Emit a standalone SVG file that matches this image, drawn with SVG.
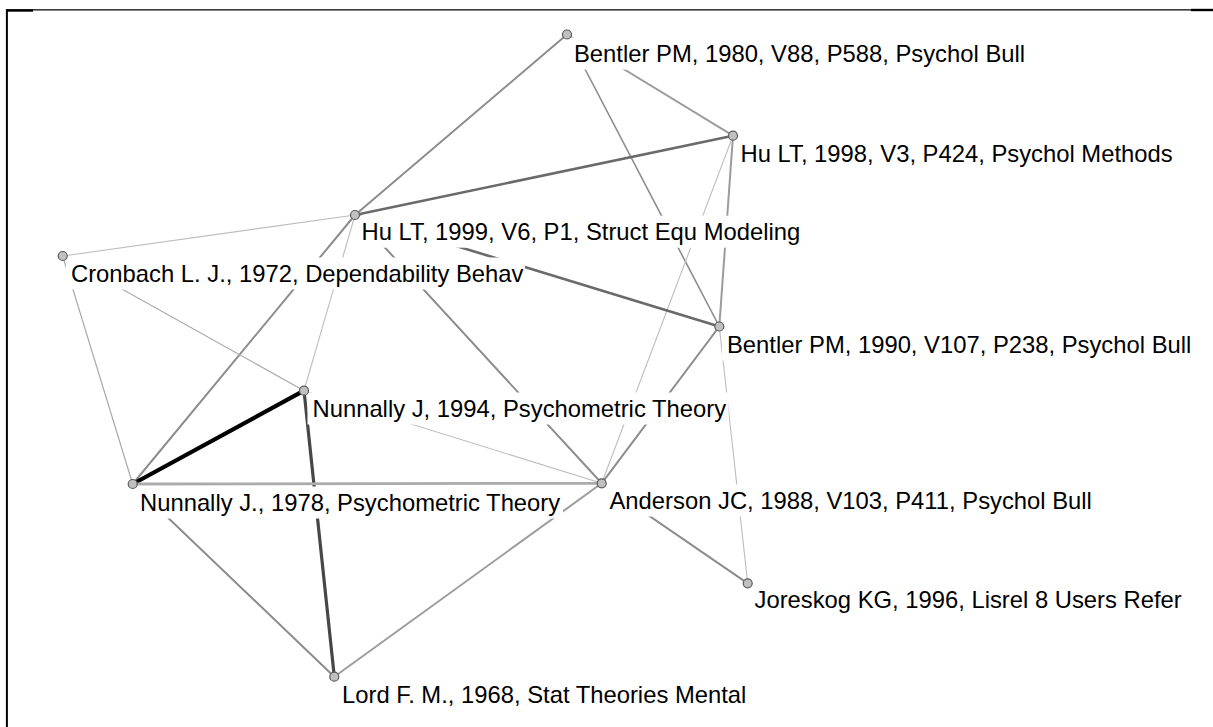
<svg xmlns="http://www.w3.org/2000/svg" width="1213" height="727" viewBox="0 0 1213 727">
<style>
.bg{fill:#fff}
.lbl{font-family:"Liberation Sans",Arial,sans-serif;font-size:23.8px;fill:#000}
.box{fill:#fff;stroke:none}
.dot{fill:#c0c0c0;stroke:#5a5a5a;stroke-width:1.2}
.e{fill:none;stroke-linecap:round}
.w1{stroke:#bdbdbd;stroke-width:1.1}
.w1b{stroke:#aaaaaa;stroke-width:1.2}
.w2{stroke:#8c8c8c;stroke-width:2}
.w2l{stroke:#9c9c9c;stroke-width:2}
.w3{stroke:#6a6a6a;stroke-width:2.6}
.w4{stroke:#474747;stroke-width:3.2}
.w5{stroke:#000;stroke-width:4.2}
.frame{stroke:#000;fill:none}
</style>
<rect class="bg" x="0" y="0" width="1213" height="727"/>
<g id="frame">
<line class="frame" x1="7" y1="9.8" x2="1213" y2="9.8" stroke-width="1.3"/>
<line class="frame" x1="6.9" y1="9" x2="6.9" y2="727" stroke-width="2"/>
<line class="frame" x1="7" y1="10.5" x2="33" y2="10.5" stroke-width="2.4"/>
<line class="frame" x1="1191" y1="10" x2="1213" y2="10" stroke-width="2.4"/>
</g>
<g id="connectors">
<line class="e w2" x1="567" y1="34.5" x2="355" y2="215"/>
<line class="e w2l" x1="567" y1="34.5" x2="733" y2="135.7"/>
<line class="e w2" x1="567" y1="34.5" x2="719.3" y2="326.5" style="stroke-width:1.6"/>
<line class="e w3" x1="733" y1="135.7" x2="355" y2="215"/>
<line class="e w2l" x1="733" y1="135.7" x2="719.3" y2="326.5"/>
<line class="e w1" x1="733" y1="135.7" x2="601.7" y2="483.3"/>
<line class="e w1" x1="355" y1="215" x2="62.7" y2="256"/>
<line class="e w1" x1="355" y1="215" x2="304" y2="390.7"/>
<line class="e w3" x1="355" y1="215" x2="719.3" y2="326.5"/>
<line class="e w2" x1="355" y1="215" x2="601.7" y2="483.3"/>
<line class="e w2" x1="355" y1="215" x2="132.7" y2="484"/>
<line class="e w1b" x1="62.7" y1="256" x2="132.7" y2="484"/>
<line class="e w1b" x1="62.7" y1="256" x2="304" y2="390.7"/>
<line class="e w5" x1="304" y1="390.7" x2="132.7" y2="484"/>
<line class="e w4" x1="304" y1="390.7" x2="334.3" y2="676.7"/>
<line class="e w1" x1="304" y1="390.7" x2="601.7" y2="483.3"/>
<line class="e" x1="132.7" y1="484" x2="601.7" y2="483.3" style="stroke:#ababab;stroke-width:2.8"/>
<line class="e w2" x1="132.7" y1="484" x2="334.3" y2="676.7"/>
<line class="e w2l" x1="601.7" y1="483.3" x2="334.3" y2="676.7"/>
<line class="e w2" x1="601.7" y1="483.3" x2="719.3" y2="326.5"/>
<line class="e w2" x1="601.7" y1="483.3" x2="747.7" y2="583.3"/>
<line class="e w1" x1="719.3" y1="326.5" x2="747.7" y2="583.3"/>
</g>
<g id="n-bentler1980"><rect class="box" x="569" y="37.5" width="458" height="32"/><text class="lbl" x="574" y="61.5">Bentler PM, 1980, V88, P588, Psychol Bull</text><circle class="dot" cx="567" cy="34.5" r="4.5"/></g>
<g id="n-hu1998"><rect class="box" x="735.5" y="137.5" width="444" height="32"/><text class="lbl" x="740.5" y="161.5">Hu LT, 1998, V3, P424, Psychol Methods</text><circle class="dot" cx="733" cy="135.7" r="4.5"/></g>
<g id="n-hu1999"><rect class="box" x="356.5" y="215.7" width="450" height="32"/><text class="lbl" x="361.5" y="239.7">Hu LT, 1999, V6, P1, Struct Equ Modeling</text><circle class="dot" cx="355" cy="215" r="4.5"/></g>
<g id="n-cronbach1972"><rect class="box" x="66" y="257.5" width="459" height="32"/><text class="lbl" x="71" y="281.5">Cronbach L. J., 1972, Dependability Behav</text><circle class="dot" cx="62.7" cy="256" r="4.5"/></g>
<g id="n-bentler1990"><rect class="box" x="722" y="328.5" width="471" height="32"/><text class="lbl" x="727" y="352.5">Bentler PM, 1990, V107, P238, Psychol Bull</text><circle class="dot" cx="719.3" cy="326.5" r="4.5"/></g>
<g id="n-nunnally1994"><rect class="box" x="307.5" y="392.5" width="421" height="32"/><text class="lbl" x="312.5" y="416.5">Nunnally J, 1994, Psychometric Theory</text><circle class="dot" cx="304" cy="390.7" r="4.5"/></g>
<g id="n-nunnally1978"><rect class="box" x="135" y="486.5" width="428" height="32"/><text class="lbl" x="140" y="510.5">Nunnally J., 1978, Psychometric Theory</text><circle class="dot" cx="132.7" cy="484" r="4.5"/></g>
<g id="n-anderson1988"><rect class="box" x="604.5" y="484.5" width="491" height="32"/><text class="lbl" x="609.5" y="508.5">Anderson JC, 1988, V103, P411, Psychol Bull</text><circle class="dot" cx="601.7" cy="483.3" r="4.5"/></g>
<g id="n-joreskog1996"><rect class="box" x="749.5" y="584.3" width="434" height="32"/><text class="lbl" x="754.5" y="608.3">Joreskog KG, 1996, Lisrel 8 Users Refer</text><circle class="dot" cx="747.7" cy="583.3" r="4.5"/></g>
<g id="n-lord1968"><rect class="box" x="337" y="679" width="414" height="32"/><text class="lbl" x="342" y="703">Lord F. M., 1968, Stat Theories Mental</text><circle class="dot" cx="334.3" cy="676.7" r="4.5"/></g>
</svg>
